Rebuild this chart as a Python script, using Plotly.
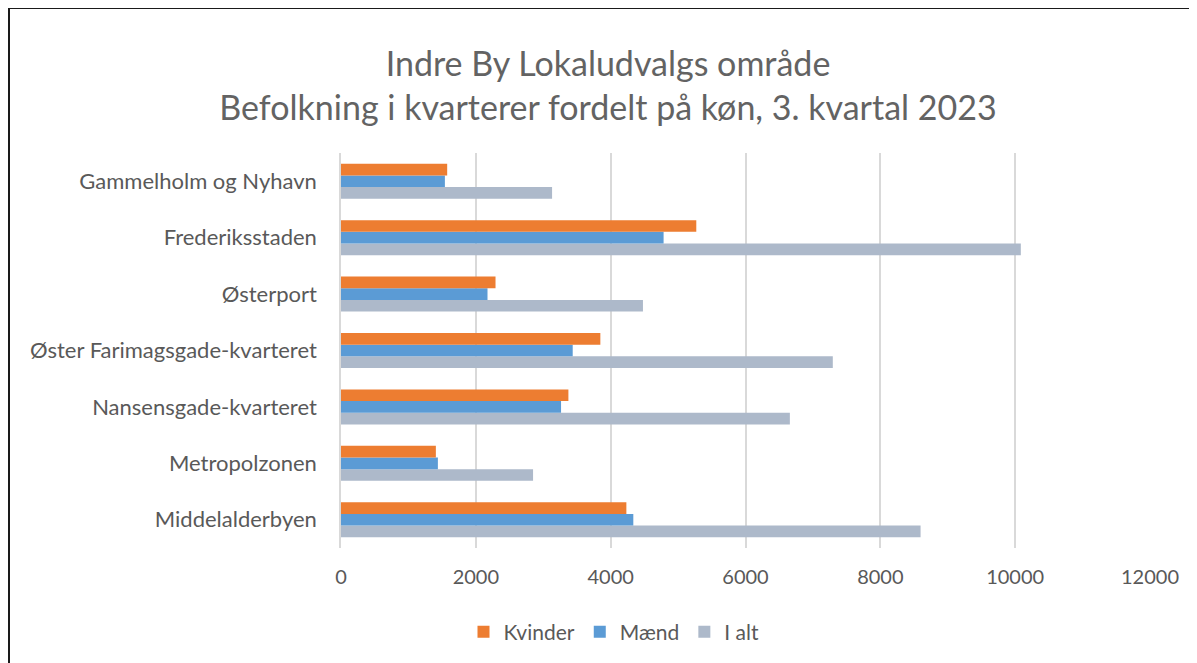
import plotly.graph_objects as go

categories = ["Middelalderbyen", "Metropolzonen", "Nansensgade-kvarteret",
              "Øster Farimagsgade-kvarteret", "Østerport", "Frederiksstaden",
              "Gammelholm og Nyhavn"]
kvinder = [4233, 1407, 3373, 3847, 2292, 5270, 1575]
maend = [4336, 1437, 3264, 3437, 2173, 4785, 1541]
i_alt = [8597, 2849, 6658, 7295, 4479, 10084, 3131]
x_ticks = [0, 2000, 4000, 6000, 8000, 10000, 12000]
x_tick_labels = ["0", "2000", "4000", "6000", "8000", "10000", "12000"]

OFF = 8  # page body margin
W, H = 1197 - OFF, 663 - OFF
# reference page-pixel geometry
PL, PR, PT, PB = 341, 1150, 153, 548
ml, mr, mt, mb = PL - OFF, (1197 - PR), PT - OFF, (663 - PB)
pw, ph = W - ml - mr, H - mt - mb

def px_x(x):
    return (x - OFF - ml) / pw

def px_y(y):
    return 1 - (y - OFF - mt) / ph

font_fam = "Lato, 'Open Sans', sans-serif"
grey_txt = "#595959"

fig = go.Figure()
fig.add_trace(go.Bar(y=categories, x=i_alt, name="I alt", orientation="h",
                     marker=dict(color="#ADB9CA", line=dict(width=0))))
fig.add_trace(go.Bar(y=categories, x=maend, name="Mænd", orientation="h",
                     marker=dict(color="#5B9BD5", line=dict(width=0))))
fig.add_trace(go.Bar(y=categories, x=kvinder, name="Kvinder", orientation="h",
                     marker=dict(color="#ED7D31", line=dict(width=0))))

fig.update_layout(
    width=W, height=H,
    margin=dict(l=ml, r=mr, t=mt, b=mb, autoexpand=False),
    paper_bgcolor="white", plot_bgcolor="white",
    barmode="group", bargap=0.38, bargroupgap=0,
    font=dict(family=font_fam, color=grey_txt),
    title=dict(text="Indre By Lokaludvalgs område<br>Befolkning i kvarterer fordelt på køn, 3. kvartal 2023",
               x=(608 - OFF) / W, xanchor="center",
               y=1 - (76 - OFF) / H, yanchor="middle",
               font=dict(size=34, color="#636363", family=font_fam)),
    xaxis=dict(range=[0, 12000], tickvals=x_ticks, ticktext=x_tick_labels,
               showgrid=True, gridcolor="#D9D9D9", gridwidth=1.5,
               zeroline=False, showline=False, ticks="",
               tickfont=dict(size=20, color=grey_txt),
               ticklabelstandoff=15, fixedrange=True),
    yaxis=dict(categoryorder="array", categoryarray=categories,
               showgrid=False, zeroline=False, showline=True,
               linecolor="#D9D9D9", linewidth=1.5, ticks="",
               tickfont=dict(size=22, color=grey_txt),
               ticklabelstandoff=18, fixedrange=True),
    legend=dict(orientation="h", x=px_x(614), xanchor="center",
                y=px_y(632), yanchor="middle", traceorder="reversed",
                font=dict(size=21, color=grey_txt), itemwidth=30),
    showlegend=True,
)

# outer chart border (left and top visible)
fig.add_shape(type="line", xref="paper", yref="paper",
              x0=px_x(9), x1=px_x(9), y0=px_y(8), y1=px_y(680),
              line=dict(color="#1a1a1a", width=2))
fig.add_shape(type="line", xref="paper", yref="paper",
              x0=px_x(9), x1=px_x(1210), y0=px_y(8), y1=px_y(8),
              line=dict(color="#1a1a1a", width=2))

fig.write_html("out.html")
